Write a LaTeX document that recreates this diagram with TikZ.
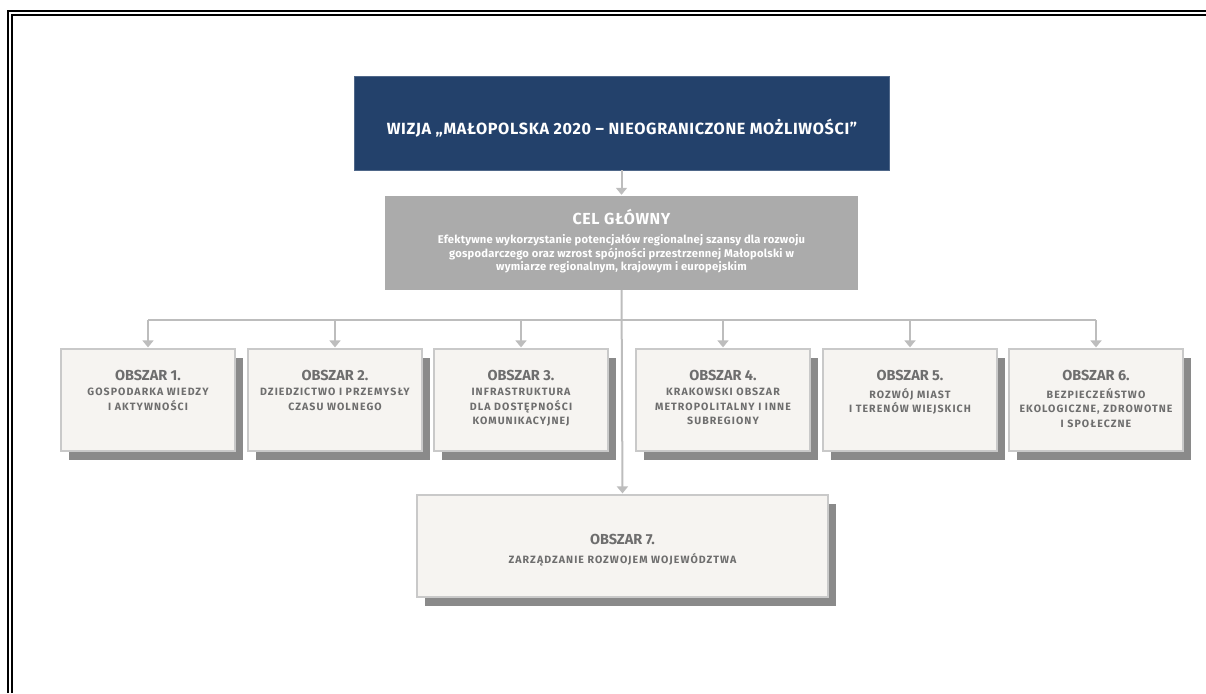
\documentclass[tikz,border=0pt]{standalone}
\usepackage{fontspec}
\setmainfont{Fira Sans}
\newfontfamily\trk[LetterSpace=10]{Fira Sans}
\newfontfamily\trkb[LetterSpace=4]{Fira Sans}
\newfontfamily\trkc[LetterSpace=2]{Fira Sans}
\usetikzlibrary{arrows.meta,shadows}
\definecolor{navy}{HTML}{23416B}
\definecolor{celgray}{HTML}{ABABAB}
\definecolor{boxfill}{HTML}{F6F4F1}
\definecolor{boxline}{HTML}{C9C9C9}
\definecolor{shadowc}{HTML}{8A8A8A}
\definecolor{txtgray}{HTML}{6E6E6E}
\definecolor{conngray}{HTML}{BDBDBD}
\tikzset{
  visbox/.style={rectangle, fill=navy, draw=navy!80!white, line width=0.6pt, text=white, inner sep=0pt},
  celbox/.style={rectangle, fill=celgray, draw=none, inner sep=0pt},
  obsbox/.style={rectangle, fill=boxfill, draw=boxline, line width=1.2pt, inner sep=0pt,
    minimum height=102pt,
    drop shadow={shadow xshift=8pt, shadow yshift=-9pt, fill=shadowc, opacity=1, draw=none}},
  ttl/.style={text=txtgray, font=\fontsize{14.5}{16}\selectfont\bfseries, inner sep=0pt, anchor=base},
  sub/.style={text=txtgray, font=\trk\fontsize{10.6}{14.5}\selectfont\bfseries, align=center, inner sep=0pt, anchor=north},
  conn/.style={draw=conngray, line width=2pt},
  arr/.style={conn, -{Triangle[width=11pt,length=7pt]}, shorten >=1pt}
}
\begin{document}
\begin{tikzpicture}[x=1pt,y=-1pt]
\useasboundingbox (0,0) rectangle (1206,693);
% page frame
\draw[line width=2.5pt] (8,693) -- (8,11.2) -- (1206,11.2);
\draw[line width=1.8pt] (12.2,693) -- (12.2,15.2) -- (1206,15.2);

% top boxes
\node[visbox, minimum width=535pt, minimum height=94pt] (vis) at (621.5,123) {};
\node[text=white, font=\trkb\fontsize{16.2}{18}\selectfont\bfseries, inner sep=0pt, anchor=base] (vist) at (622,134)
  {WIZJA „MAŁOPOLSKA 2020 – NIEOGRANICZONE MOŻLIWOŚCI”};
\node[celbox, minimum width=473pt, minimum height=94pt] (cel) at (621.5,243) {};
\node[text=white, font=\trkb\fontsize{16}{18}\selectfont\bfseries, inner sep=0pt, anchor=base] (celt) at (621.5,224) {CEL GŁÓWNY};
\node[text=white, font=\trkc\fontsize{11.2}{13.5}\selectfont\bfseries, align=center, inner sep=0pt, anchor=north] (celb) at (621.5,234)
  {Efektywne wykorzystanie potencjałów regionalnej szansy dla rozwoju\\
   gospodarczego oraz wzrost spójności przestrzennej Małopolski w\\
   wymiarze regionalnym, krajowym i europejskim};

% area boxes
\node[obsbox, minimum width=174pt] (o1) at (148,400) {};
\node[obsbox, minimum width=174pt] (o2) at (335,400) {};
\node[obsbox, minimum width=174pt] (o3) at (521,400) {};
\node[obsbox, minimum width=174pt] (o4) at (723,400) {};
\node[obsbox, minimum width=174pt] (o5) at (910,400) {};
\node[obsbox, minimum width=174pt] (o6) at (1096,400) {};
\node[obsbox, minimum width=411pt] (o7) at (622.5,546) {};

\node[ttl] (o1t) at (148,380) {OBSZAR 1.};
\node[sub] (o1s) at (148,388) {GOSPODARKA WIEDZY\\I AKTYWNOŚCI};
\node[ttl] (o2t) at (335,380) {OBSZAR 2.};
\node[sub] (o2s) at (335,388) {DZIEDZICTWO I PRZEMYSŁY\\CZASU WOLNEGO};
\node[ttl] (o3t) at (521,380) {OBSZAR 3.};
\node[sub] (o3s) at (521,388) {INFRASTRUKTURA\\DLA DOSTĘPNOŚCI\\KOMUNIKACYJNEJ};
\node[ttl] (o4t) at (723,380) {OBSZAR 4.};
\node[sub] (o4s) at (723,388) {KRAKOWSKI OBSZAR\\METROPOLITALNY I INNE\\SUBREGIONY};
\node[ttl] (o5t) at (910,380) {OBSZAR 5.};
\node[sub] (o5s) at (910,388) {ROZWÓJ MIAST\\I TERENÓW WIEJSKICH};
\node[ttl] (o6t) at (1096,380) {OBSZAR 6.};
\node[sub] (o6s) at (1096,388) {BEZPIECZEŃSTWO\\EKOLOGICZNE, ZDROWOTNE\\I SPOŁECZNE};
\node[ttl] (o7t) at (622.5,544) {OBSZAR 7.};
\node[sub] (o7s) at (622.5,553) {ZARZĄDZANIE ROZWOJEM WOJEWÓDZTWA};

% connectors
\coordinate (bus) at (621,320);
\draw[arr] (vis.south) -- (cel.north);
\draw[arr] (cel.south) -- (o7.north);
\draw[conn] (o1.north |- bus) -- (o6.north |- bus);
\foreach \n in {o1,o2,o3,o4,o5,o6}
  \draw[arr] (\n.north |- bus) -- (\n.north);
\end{tikzpicture}
\end{document}
